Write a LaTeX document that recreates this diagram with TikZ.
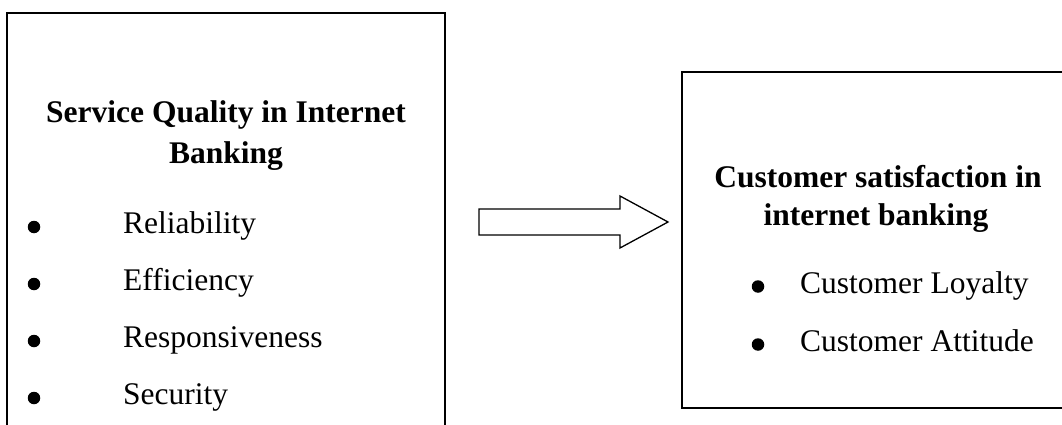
\documentclass[tikz,border=0pt]{standalone}
\usepackage{fontspec}
\setmainfont{Liberation Serif}
\begin{document}
\begin{tikzpicture}[x=1pt,y=-1pt,
  frame/.style={draw=black,line width=1.6pt},
  head/.style={font=\fontsize{31.5}{36}\selectfont\bfseries,anchor=base,inner sep=0pt},
  item/.style={font=\fontsize{31.5}{36}\selectfont,anchor=base west,inner sep=0pt},
  dot/.style={circle,fill=black,inner sep=0pt,minimum size=12.5pt},
  blockarrow/.style={draw=black,line width=1.3pt,fill=white,line join=miter}]
\useasboundingbox (0,0) rectangle (1062,425);
\clip (0,0) rectangle (1062,425);

% left panel: service quality dimensions
\draw[frame] (7,13) rectangle (445,445);
\node[head] (sqa) at (226,123) {Service Quality in Internet};
\node[head] (sqb) at (226,163) {Banking};
\node[dot] (d1) at (34,227) {};
\node[dot] (d2) at (34,284) {};
\node[dot] (d3) at (34,341) {};
\node[dot] (d4) at (34,398) {};
\node[item] (i1) at (123,233.5) {Reliability};
\node[item] (i2) at (123,290.5) {Efficiency};
\node[item] (i3) at (123,347.5) {Responsiveness};
\node[item] (i4) at (123,404.5) {Security};

% right panel: customer satisfaction
\draw[frame] (682,72) rectangle (1090,408);
\node[head] (csa) at (878,187) {Customer satisfaction in};
\node[head] (csb) at (876,225) {internet banking};
\node[dot] (e1) at (758,286.5) {};
\node[dot] (e2) at (758,344.5) {};
\node[item] (j1) at (800,293) {Customer Loyalty};
\node[item] (j2) at (800,351) {Customer Attitude};

% block arrow between the panels
\coordinate (tailtop) at (479,209);
\coordinate (tailbot) at (479,235);
\coordinate (tip) at (668,222);
\draw[blockarrow] (tailtop) -- (620,209) -- (620,196) -- (tip)
  -- (620,248) -- (620,235) -- (tailbot) -- cycle;
\end{tikzpicture}
\end{document}
